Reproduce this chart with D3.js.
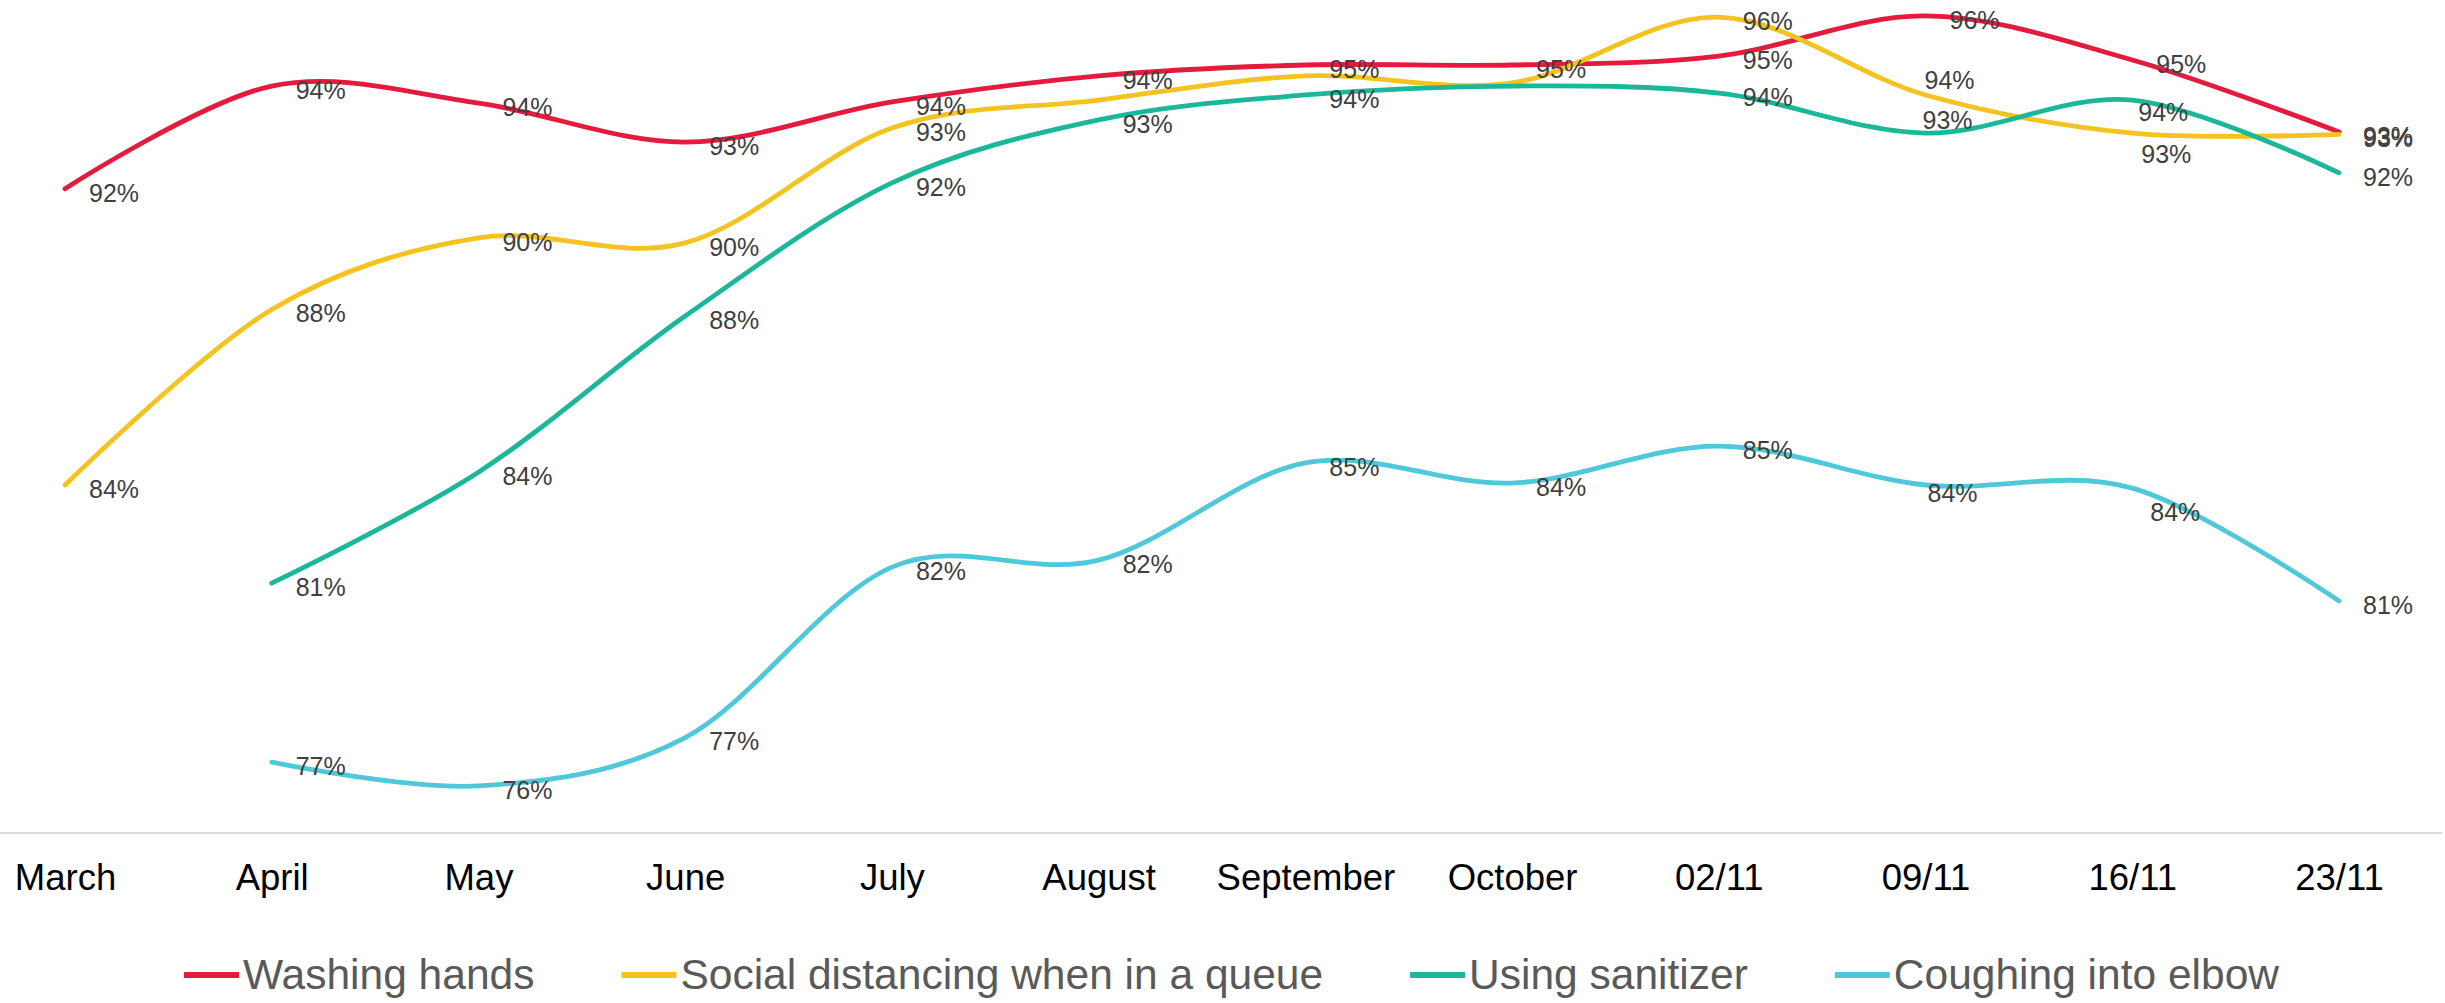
<!DOCTYPE html>
<html>
<head>
<meta charset="utf-8">
<script src="https://cdn.jsdelivr.net/npm/d3@7"></script>
<style>
  html, body { margin: 0; padding: 0; background: #fff; }
  svg { display: block; font-family: "Liberation Sans", Arial, sans-serif; }
</style>
</head>
<body>
<div id="chart"></div>
<script>
const categories = ["March", "April", "May", "June", "July", "August", "September", "October", "02/11", "09/11", "16/11", "23/11"];

const seriesNames = ["Washing hands", "Social distancing when in a queue", "Using sanitizer", "Coughing into elbow"];

// percent values (no survey data before April for the last two)
const washingHands      = [91.55, 94.19, 93.75, 92.75, 93.78, 94.45, 94.73, 94.73, 94.96, 95.99, 94.86, 93.01];
const socialDistancing  = [83.94, 88.45, 90.29, 90.16, 93.11, 93.83, 94.45, 94.27, 95.96, 93.96, 92.98, 92.95];
const usingSanitizer    = [null, 81.42, 84.27, 88.28, 91.70, 93.32, 93.96, 94.19, 94.01, 92.98, 93.83, 91.96];
const coughingIntoElbow = [null, 76.82, 76.21, 77.45, 81.83, 82.01, 84.51, 83.99, 84.94, 83.94, 83.86, 80.96];

const allValues = [washingHands, socialDistancing, usingSanitizer, coughingIntoElbow];
const colors = ["#e41b3c", "#f4c31f", "#1ab899", "#4fc8d9"];

// labels that the original leaves out, and the ones that were dragged by hand
const hiddenLabels = [[], [5, 6, 7], [7], []];
const labelNudges = [
  {},
  { 9: [-25, -19], 10: [-15, 17] },
  { 9: [-27, -17], 10: [-18, 8] },
  { 9: [-22, 4], 10: [-6, 20] }
];

const width = 2445, height = 1003;

const svg = d3.select("#chart")
  .append("svg")
    .attr("width", width)
    .attr("height", height);

const x = d3.scalePoint()
  .domain(categories)
  .range([65, 2339]);

const y = d3.scaleLinear()
  .domain([75, 96.4])
  .range([833, 0]);

// axis line runs across the whole plot area
svg.append("line")
  .attr("x1", 0).attr("x2", width - 3)
  .attr("y1", y(75)).attr("y2", y(75))
  .attr("stroke", "#d9d9d9")
  .attr("stroke-width", 2);

const xAxis = svg.append("g")
  .attr("transform", "translate(0," + y(75) + ")")
  .call(d3.axisBottom(x).tickSize(0).tickPadding(31));
xAxis.select(".domain").remove();
xAxis.selectAll("text")
  .attr("font-size", 36.5)
  .attr("font-family", "Liberation Sans, Arial, sans-serif")
  .attr("fill", "#000");

const line = d3.line()
  .defined(d => d.v != null)
  .x(d => x(d.c))
  .y(d => y(d.v))
  .curve(d3.curveCatmullRom.alpha(0));

const series = allValues.map((vals, i) => ({
  name: seriesNames[i],
  color: colors[i],
  points: vals.map((v, j) => ({ c: categories[j], v: v, j: j }))
}));

svg.selectAll(".series")
  .data(series)
  .enter()
  .append("path")
    .attr("class", "series")
    .attr("d", d => line(d.points))
    .attr("fill", "none")
    .attr("stroke", d => d.color)
    .attr("stroke-width", 4.8)
    .attr("stroke-linecap", "round");

// data labels, to the right of each point
series.forEach((s, i) => {
  const pts = s.points.filter(p => p.v != null && hiddenLabels[i].indexOf(p.j) < 0);
  svg.append("g")
    .selectAll("text")
    .data(pts)
    .enter()
    .append("text")
      .attr("x", p => x(p.c) + 24 + ((labelNudges[i][p.j] || [0, 0])[0]))
      .attr("y", p => y(p.v) + 4 + ((labelNudges[i][p.j] || [0, 0])[1]))
      .attr("dy", "0.35em")
      .attr("font-size", 25)
      .attr("fill", "#404040")
      .text(p => Math.round(p.v) + "%");
});

// legend, centred under the chart
const legend = svg.append("g");
const swatch = 55, gap = 87, legendY = 975;
let cursor = 0;
series.forEach(s => {
  const g = legend.append("g");
  g.append("line")
    .attr("x1", 0).attr("x2", swatch)
    .attr("y1", 0).attr("y2", 0)
    .attr("stroke", s.color)
    .attr("stroke-width", 6);
  const t = g.append("text")
    .attr("x", swatch + 4)
    .attr("y", 14)
    .attr("font-size", 42.5)
    .attr("fill", "#595959")
    .text(s.name);
  const w = swatch + 4 + t.node().getComputedTextLength();
  g.attr("transform", "translate(" + cursor + "," + legendY + ")");
  cursor += w + gap;
});
const legendWidth = cursor - gap;
legend.attr("transform", "translate(" + (width / 2 - legendWidth / 2 + 9) + ",0)");
</script>
</body>
</html>
